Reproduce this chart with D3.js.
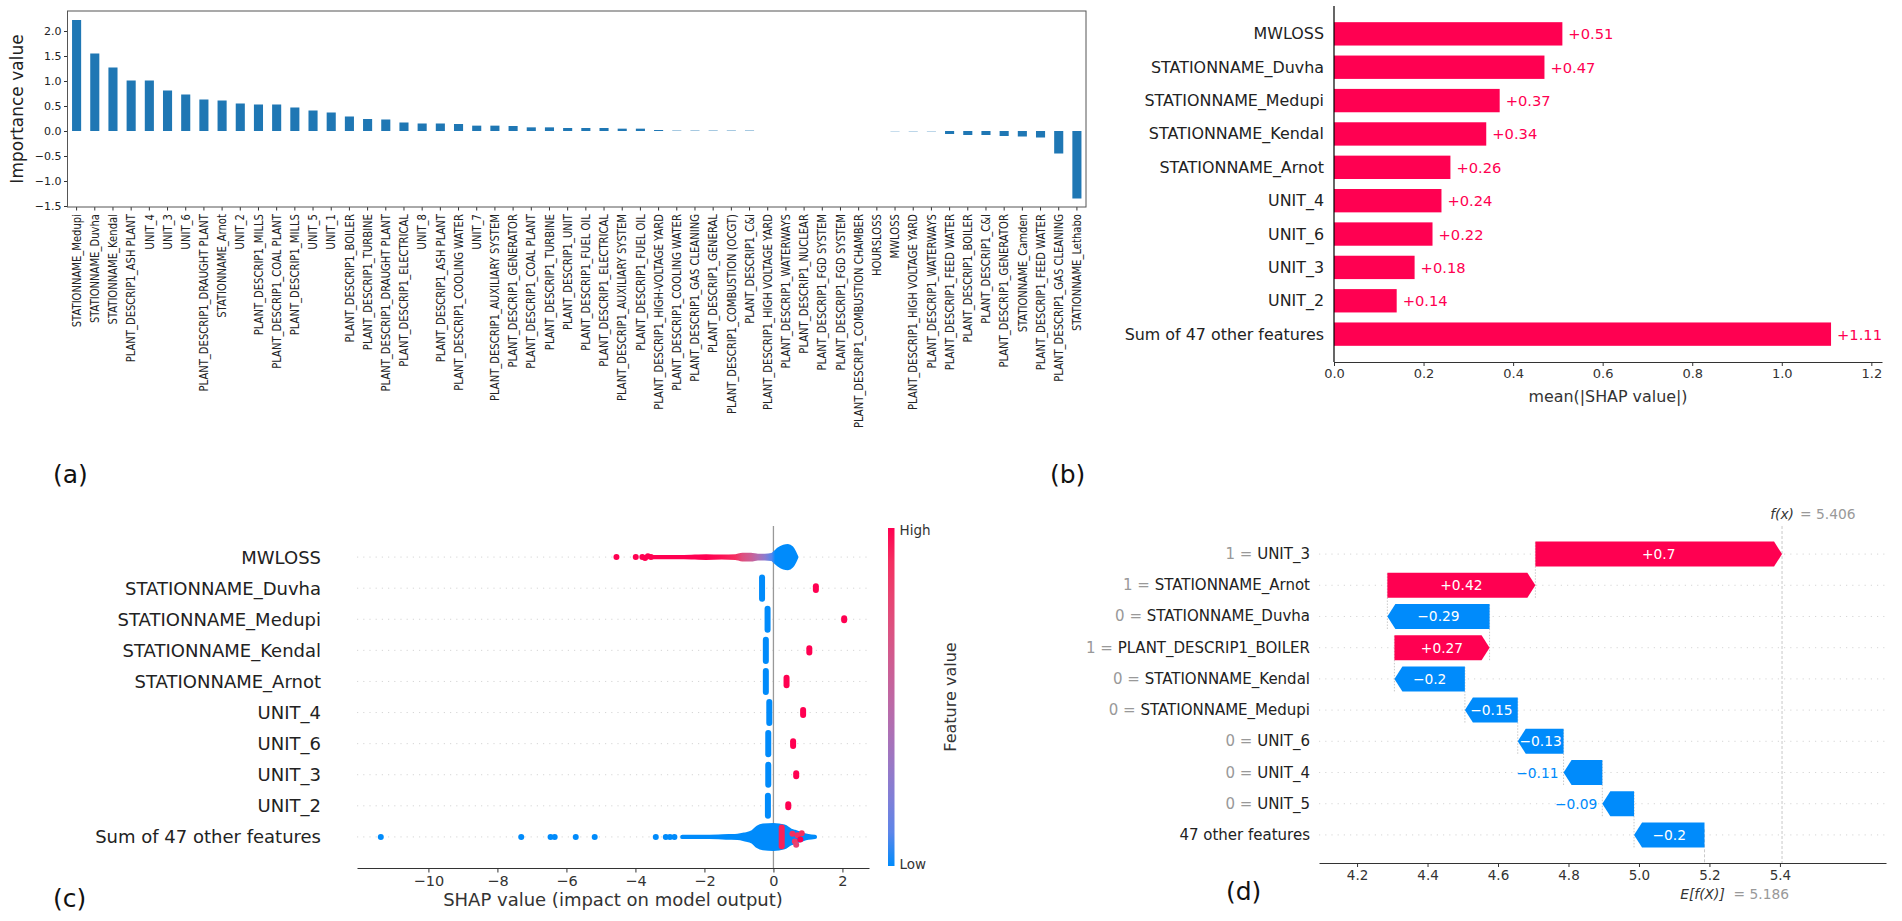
<!DOCTYPE html>
<html>
<head>
<meta charset="utf-8">
<script src="https://cdn.jsdelivr.net/npm/d3@7"></script>
<style>
  html, body { margin: 0; padding: 0; background: #fff; }
  svg { display: block; }
  text { font-family: "DejaVu Sans", sans-serif; }
</style>
</head>
<body>
<svg id="chart" width="1902" height="921"></svg>
<script>
// ---- (a) importance values
const impFeatures = [
  'STATIONNAME_Medupi', 'STATIONNAME_Duvha', 'STATIONNAME_Kendal', 'PLANT_DESCRIP1_ASH PLANT',
  'UNIT_4', 'UNIT_3', 'UNIT_6', 'PLANT_DESCRIP1_DRAUGHT PLANT', 'STATIONNAME_Arnot', 'UNIT_2',
  'PLANT_DESCRIP1_MILLS', 'PLANT_DESCRIP1_COAL PLANT', 'PLANT_DESCRIP1_MILLS', 'UNIT_5', 'UNIT_1',
  'PLANT_DESCRIP1_BOILER', 'PLANT_DESCRIP1_TURBINE', 'PLANT_DESCRIP1_DRAUGHT PLANT', 'PLANT_DESCRIP1_ELECTRICAL',
  'UNIT_8', 'PLANT_DESCRIP1_ASH PLANT', 'PLANT_DESCRIP1_COOLING WATER', 'UNIT_7', 'PLANT_DESCRIP1_AUXILIARY SYSTEM',
  'PLANT_DESCRIP1_GENERATOR', 'PLANT_DESCRIP1_COAL PLANT', 'PLANT_DESCRIP1_TURBINE', 'PLANT_DESCRIP1_UNIT',
  'PLANT_DESCRIP1_FUEL OIL', 'PLANT_DESCRIP1_ELECTRICAL', 'PLANT_DESCRIP1_AUXILIARY SYSTEM', 'PLANT_DESCRIP1_FUEL OIL',
  'PLANT_DESCRIP1_HIGH-VOLTAGE YARD', 'PLANT_DESCRIP1_COOLING WATER', 'PLANT_DESCRIP1_GAS CLEANING', 'PLANT_DESCRIP1_GENERAL',
  'PLANT_DESCRIP1_COMBUSTION (OCGT)', 'PLANT_DESCRIP1_C&I', 'PLANT_DESCRIP1_HIGH VOLTAGE YARD', 'PLANT_DESCRIP1_WATERWAYS',
  'PLANT_DESCRIP1_NUCLEAR', 'PLANT_DESCRIP1_FGD SYSTEM', 'PLANT_DESCRIP1_FGD SYSTEM', 'PLANT_DESCRIP1_COMBUSTION CHAMBER',
  'HOURSLOSS', 'MWLOSS', 'PLANT_DESCRIP1_HIGH VOLTAGE YARD', 'PLANT_DESCRIP1_WATERWAYS', 'PLANT_DESCRIP1_FEED WATER',
  'PLANT_DESCRIP1_BOILER', 'PLANT_DESCRIP1_C&I', 'PLANT_DESCRIP1_GENERATOR', 'STATIONNAME_Camden',
  'PLANT_DESCRIP1_FEED WATER', 'PLANT_DESCRIP1_GAS CLEANING', 'STATIONNAME_Lethabo'
];
const impValues = [
  2.22, 1.55, 1.27, 1.01, 1.01, 0.81, 0.73, 0.63, 0.61, 0.55,
  0.53, 0.53, 0.47, 0.41, 0.37, 0.29, 0.24, 0.23, 0.17, 0.15,
  0.15, 0.14, 0.107, 0.107, 0.10, 0.073, 0.073, 0.06, 0.06, 0.06,
  0.047, 0.047, 0.02, 0.008, 0.008, 0.008, 0.008, 0.008, 0, 0,
  0, 0, 0, 0, 0, -0.005, -0.006, -0.006, -0.06, -0.08,
  -0.08, -0.10, -0.11, -0.13, -0.45, -1.35
];
const impTicks = [-1.5, -1.0, -0.5, 0.0, 0.5, 1.0, 1.5, 2.0];

// ---- (b) mean |SHAP value|
const barFeatures = ['MWLOSS', 'STATIONNAME_Duvha', 'STATIONNAME_Medupi', 'STATIONNAME_Kendal',
  'STATIONNAME_Arnot', 'UNIT_4', 'UNIT_6', 'UNIT_3', 'UNIT_2', 'Sum of 47 other features'];
const barValues = [0.51, 0.47, 0.37, 0.34, 0.26, 0.24, 0.22, 0.18, 0.14, 1.11];
const barTicks = [0, 0.2, 0.4, 0.6, 0.8, 1.0, 1.2];

// ---- (c) beeswarm, read row by row
const swarmFeatures = ['MWLOSS', 'STATIONNAME_Duvha', 'STATIONNAME_Medupi', 'STATIONNAME_Kendal',
  'STATIONNAME_Arnot', 'UNIT_4', 'UNIT_6', 'UNIT_3', 'UNIT_2', 'Sum of 47 other features'];
// dense envelopes: [SHAP value, spread (share of row), feature value 0..1]
const swarmBands = [
  [[-3.5, 0, 1], [-2.6, 0, 1], [-1.95, 0.02, 1], [-1.5, 0.01, 0.98], [-1.1, 0.02, 0.9],
   [-0.9, 0.07, 0.72], [-0.65, 0.07, 0.58], [-0.45, 0.04, 0.42], [-0.25, 0.04, 0.25],
   [-0.05, 0.06, 0.08], [0.05, 0.14, 0], [0.15, 0.24, 0], [0.3, 0.33, 0], [0.42, 0.35, 0],
   [0.52, 0.29, 0], [0.6, 0.15, 0], [0.66, 0, 0]],
  [], [], [], [], [], [], [], [],
  [[-2.64, 0, 0], [-1.86, 0, 0], [-1.3, 0.02, 0], [-1.04, 0.03, 0], [-0.84, 0.07, 0],
   [-0.6, 0.15, 0], [-0.45, 0.3, 0], [-0.3, 0.36, 0], [0.0, 0.38, 0], [0.31, 0.33, 0],
   [0.5, 0.2, 0], [0.61, 0.16, 0], [0.87, 0.06, 0], [1.2, 0, 0]]
];
// vertical stacks: [SHAP value, spread, feature value]
const swarmStacks = [
  [],
  [[-0.33, 0.34, 0], [1.23, 0.06, 1]],
  [[-0.17, 0.34, 0], [2.05, 0.03, 1]],
  [[-0.22, 0.34, 0], [1.04, 0.07, 1]],
  [[-0.22, 0.34, 0], [0.38, 0.12, 1]],
  [[-0.12, 0.34, 0], [0.86, 0.08, 1]],
  [[-0.15, 0.34, 0], [0.57, 0.08, 1]],
  [[-0.15, 0.32, 0], [0.66, 0.05, 1]],
  [[-0.16, 0.32, 0], [0.43, 0.05, 1]],
  [[0.24, 0.3, 0.95]]
];
// single points: [SHAP value, feature value, offset (share of row)]
const swarmDots = [
  [[-4.55, 1, 0], [-3.99, 1, 0], [-3.80, 1, 0], [-3.72, 1, 0.03], [-3.64, 1, -0.03], [-3.55, 1, 0]],
  [], [], [], [], [], [], [], [],
  [[-11.38, 0, 0], [-7.31, 0, 0], [-6.46, 0, 0], [-6.34, 0, 0], [-5.73, 0, 0], [-5.18, 0, 0],
   [-3.41, 0, 0], [-3.12, 0, 0], [-3.0, 0, 0], [-2.87, 0, 0],
   [0.55, 0.9, -0.1], [0.62, 0.85, 0.15], [0.7, 0.9, -0.05], [0.78, 1, 0.08], [0.82, 0.9, -0.12], [0.66, 0.8, 0.25]]
];
const swarmTicks = [-10, -8, -6, -4, -2, 0, 2];

// ---- (d) waterfall
const wfFeatures = ['UNIT_3', 'STATIONNAME_Arnot', 'STATIONNAME_Duvha', 'PLANT_DESCRIP1_BOILER',
  'STATIONNAME_Kendal', 'STATIONNAME_Medupi', 'UNIT_6', 'UNIT_4', 'UNIT_5', '47 other features'];
const wfInputs = ['1', '1', '0', '1', '0', '0', '0', '0', '0', ''];
const wfValues = [0.7, 0.42, -0.29, 0.27, -0.2, -0.15, -0.13, -0.11, -0.09, -0.2];
const wfBase = 5.186;
const wfFx = 5.406;
const wfTicks = [4.2, 4.4, 4.6, 4.8, 5.0, 5.2, 5.4];

const RED = '#ff0051';
const BLUE = '#008bfb';
const AXIS = '#333333';
const featColor = d3.interpolateLab(BLUE, RED);

const svg = d3.select('#chart');

function panelLabel(txt, x, y) {
    svg.append('text').attr('x', x).attr('y', y)
        .attr('font-size', 25).attr('fill', '#111').text(txt);
}

function styleAxis(g, size) {
    g.attr('font-family', 'DejaVu Sans').attr('font-size', size).attr('color', AXIS);
    g.selectAll('text').attr('fill', AXIS);
}

// (a) importance bar chart
function drawImportance() {
    const box = { l: 67.5, r: 1086, t: 11, b: 207 };
    const x = d3.scaleBand().domain(d3.range(impValues.length))
        .range([box.l, box.r]).paddingInner(0.5).paddingOuter(0.25);
    const y = d3.scaleLinear().domain([-1.52, 2.4]).range([box.b, box.t]);
    const g = svg.append('g');

    g.selectAll('rect.bar').data(impValues).join('rect')
        .attr('class', 'bar')
        .attr('x', (d, i) => x(i))
        .attr('width', x.bandwidth())
        .attr('y', d => y(Math.max(0, d)))
        .attr('height', d => Math.abs(y(d) - y(0)))
        .attr('fill', '#1f77b4');

    const ya = g.append('g').attr('transform', `translate(${box.l},0)`)
        .call(d3.axisLeft(y).tickValues(impTicks).tickFormat(d3.format('.1f')).tickSize(3.5).tickSizeOuter(0));
    ya.select('.domain').remove();
    styleAxis(ya, 11);
    ya.selectAll('text').attr('fill', '#222').attr('x', -6);

    const xa = g.append('g').attr('transform', `translate(0,${box.b})`)
        .call(d3.axisBottom(x).tickFormat(i => impFeatures[i]).tickSize(3.5).tickSizeOuter(0));
    xa.select('.domain').remove();
    styleAxis(xa, 12);
    xa.selectAll('text')
        .attr('font-family', 'Liberation Sans')
        .attr('fill', '#222')
        .attr('text-anchor', 'end')
        .attr('x', -8.5).attr('y', 0).attr('dy', '0.35em')
        .attr('transform', 'rotate(-90) scale(0.835,1)');

    g.append('rect')
        .attr('x', box.l).attr('y', box.t)
        .attr('width', box.r - box.l).attr('height', box.b - box.t)
        .attr('fill', 'none').attr('stroke', '#555').attr('stroke-width', 1);

    g.append('text')
        .attr('transform', `translate(17,${(box.t + box.b) / 2}) rotate(-90)`)
        .attr('text-anchor', 'middle').attr('dominant-baseline', 'central')
        .attr('font-family', 'Liberation Sans').attr('font-size', 17).attr('fill', '#222')
        .text('Importance value');
}

// (b) mean |SHAP| bar chart
function drawMeanBar() {
    const l = 1334, r = 1882, t = 6, b = 362;
    const n = barValues.length;
    const x = d3.scaleLinear().domain([0, 1.2238]).range([l, r]);
    const y = d3.scaleLinear().domain([-0.835, n - 1 + 0.835]).range([t, b]);
    const h = (y(1) - y(0)) * 0.7;
    const g = svg.append('g');

    g.selectAll('rect').data(barValues).join('rect')
        .attr('x', x(0)).attr('y', (d, i) => y(i) - h / 2)
        .attr('width', d => x(d) - x(0)).attr('height', h)
        .attr('fill', RED);

    g.selectAll('text.val').data(barValues).join('text')
        .attr('class', 'val')
        .attr('x', d => x(d) + 6).attr('y', (d, i) => y(i))
        .attr('dominant-baseline', 'central')
        .attr('font-size', 14.7).attr('fill', RED)
        .text(d => '+' + d.toFixed(2));

    g.selectAll('text.lab').data(barFeatures).join('text')
        .attr('class', 'lab')
        .attr('x', l - 10).attr('y', (d, i) => y(i))
        .attr('text-anchor', 'end').attr('dominant-baseline', 'central')
        .attr('font-size', 15.9).attr('fill', '#222')
        .text(d => d);

    const xa = g.append('g').attr('transform', `translate(0,${b})`)
        .call(d3.axisBottom(x).tickValues(barTicks).tickFormat(d3.format('.1f')).tickSize(4).tickSizeOuter(0));
    styleAxis(xa, 13);

    g.append('line').attr('x1', l).attr('x2', l).attr('y1', t).attr('y2', b)
        .attr('stroke', '#000').attr('stroke-width', 1.2);

    g.append('text').attr('x', (l + r) / 2).attr('y', b + 40)
        .attr('text-anchor', 'middle').attr('font-size', 15.9).attr('fill', AXIS)
        .text('mean(|SHAP value|)');
}

// (c) beeswarm summary
function drawSwarm() {
    const l = 357, r = 869, t = 526, b = 868;
    const n = swarmFeatures.length;
    const x = d3.scaleLinear().domain([-12.07, 2.77]).range([l, r]);
    const y = d3.scaleLinear().domain([-1, n]).range([t, b]);
    const step = y(1) - y(0);
    const dotR = 3;
    const pad = 2.2;
    const g = svg.append('g');
    const defs = svg.append('defs');

    // dotted row guides
    g.selectAll('line.row').data(swarmFeatures).join('line')
        .attr('class', 'row')
        .attr('x1', l).attr('x2', r)
        .attr('y1', (d, i) => y(i)).attr('y2', (d, i) => y(i))
        .attr('stroke', '#cccccc').attr('stroke-width', 0.8).attr('stroke-dasharray', '1.2,5');

    g.append('line').attr('x1', x(0)).attr('x2', x(0)).attr('y1', t).attr('y2', b)
        .attr('stroke', '#999999').attr('stroke-width', 1.3);

    const area = d3.area().curve(d3.curveMonotoneX);

    swarmBands.forEach((band, i) => {
        if (!band.length) return;
        const x1 = x(band[0][0]), x2 = x(band[band.length - 1][0]);
        const grad = defs.append('linearGradient')
            .attr('id', `band-${i}`).attr('gradientUnits', 'userSpaceOnUse')
            .attr('x1', x1).attr('x2', x2).attr('y1', 0).attr('y2', 0);
        grad.selectAll('stop').data(band).join('stop')
            .attr('offset', d => (x(d[0]) - x1) / (x2 - x1))
            .attr('stop-color', d => featColor(d[2]));
        const yc = y(i);
        area.x(d => x(d[0]))
            .y0(d => yc - d[1] * step)
            .y1(d => yc + d[1] * step);
        g.append('path').attr('d', area(band))
            .attr('fill', `url(#band-${i})`)
            .attr('stroke', `url(#band-${i})`)
            .attr('stroke-width', pad * 2).attr('stroke-linejoin', 'round');
    });

    swarmStacks.forEach((stacks, i) => {
        g.selectAll(null).data(stacks).join('line')
            .attr('x1', d => x(d[0])).attr('x2', d => x(d[0]))
            .attr('y1', d => y(i) - d[1] * step).attr('y2', d => y(i) + d[1] * step)
            .attr('stroke', d => featColor(d[2]))
            .attr('stroke-width', dotR * 2).attr('stroke-linecap', 'round');
    });

    swarmDots.forEach((dots, i) => {
        g.selectAll(null).data(dots).join('circle')
            .attr('cx', d => x(d[0])).attr('cy', d => y(i) + d[2] * step)
            .attr('r', dotR).attr('fill', d => featColor(d[1]));
    });

    g.selectAll('text.lab').data(swarmFeatures).join('text')
        .attr('class', 'lab')
        .attr('x', 321).attr('y', (d, i) => y(i))
        .attr('text-anchor', 'end').attr('dominant-baseline', 'central')
        .attr('font-size', 18).attr('fill', '#222')
        .text(d => d);

    const xa = g.append('g').attr('transform', `translate(0,${b})`)
        .call(d3.axisBottom(x).tickValues(swarmTicks).tickFormat(d3.format('d')).tickSize(4.5).tickSizeOuter(0));
    styleAxis(xa, 14.5);

    g.append('text').attr('x', (l + r) / 2).attr('y', b + 38)
        .attr('text-anchor', 'middle').attr('font-size', 18).attr('fill', AXIS)
        .text('SHAP value (impact on model output)');

    // colour bar
    const cbX = 888, cbW = 6.5, cbT = 528, cbB = 866;
    const cg = defs.append('linearGradient').attr('id', 'cbar')
        .attr('x1', 0).attr('y1', 1).attr('x2', 0).attr('y2', 0);
    cg.selectAll('stop').data(d3.range(0, 1.01, 0.1)).join('stop')
        .attr('offset', d => d).attr('stop-color', d => featColor(d));
    g.append('rect').attr('x', cbX).attr('y', cbT).attr('width', cbW).attr('height', cbB - cbT)
        .attr('fill', 'url(#cbar)');
    g.append('text').attr('x', cbX + cbW + 5).attr('y', cbT + 2).attr('dominant-baseline', 'central')
        .attr('font-size', 13.5).attr('fill', AXIS).text('High');
    g.append('text').attr('x', cbX + cbW + 5).attr('y', cbB - 2).attr('dominant-baseline', 'central')
        .attr('font-size', 13.5).attr('fill', AXIS).text('Low');
    g.append('text')
        .attr('transform', `translate(${cbX + 62},${(cbT + cbB) / 2}) rotate(-90)`)
        .attr('text-anchor', 'middle').attr('dominant-baseline', 'central')
        .attr('font-family', 'Liberation Sans').attr('font-size', 16).attr('fill', AXIS)
        .text('Feature value');
}

function fmtSigned(v) {
    const s = Math.abs(v).toFixed(2).replace(/0+$/, '').replace(/\.$/, '');
    return (v < 0 ? '\u2212' : '+') + s;
}

function arrowPath(x0, x1, yc, h) {
    const dir = x1 >= x0 ? 1 : -1;
    const hl = Math.min(8, Math.abs(x1 - x0));
    const xb = x1 - dir * hl;
    return `M${x0},${yc - h / 2}L${xb},${yc - h / 2}L${x1},${yc}L${xb},${yc + h / 2}L${x0},${yc + h / 2}Z`;
}

// (d) waterfall
function drawWaterfall() {
    const l = 1319, r = 1886, t = 526, b = 863;
    const n = wfValues.length;
    const x = d3.scaleLinear().domain([4.092, 5.701]).range([l, r]);
    const y = d3.scaleLinear().domain([-0.9, n - 1 + 0.9]).range([t, b]);
    const step = y(1) - y(0);
    const h = step * 0.8;
    const g = svg.append('g');

    // cumulate from the bottom row (base value) up to f(x)
    const starts = new Array(n), ends = new Array(n);
    let pos = wfBase;
    for (let i = n - 1; i >= 0; i--) {
        starts[i] = pos;
        ends[i] = pos + wfValues[i];
        pos = ends[i];
    }

    g.selectAll('line.row').data(wfFeatures).join('line')
        .attr('class', 'row')
        .attr('x1', l).attr('x2', r)
        .attr('y1', (d, i) => y(i)).attr('y2', (d, i) => y(i))
        .attr('stroke', '#cccccc').attr('stroke-width', 0.8).attr('stroke-dasharray', '1.2,5');

    // connectors between bars
    for (let i = n - 1; i >= 1; i--) {
        g.append('line')
            .attr('x1', x(ends[i])).attr('x2', x(ends[i]))
            .attr('y1', y(i) + h / 2).attr('y2', y(i - 1) - h / 2)
            .attr('stroke', '#bbbbbb').attr('stroke-width', 0.8).attr('stroke-dasharray', '1.5,1.5');
    }

    g.append('line').attr('x1', x(wfFx)).attr('x2', x(wfFx)).attr('y1', t).attr('y2', b)
        .attr('stroke', '#bbbbbb').attr('stroke-width', 0.8).attr('stroke-dasharray', '3,2');
    g.append('line').attr('x1', x(wfBase)).attr('x2', x(wfBase)).attr('y1', b - (b - t) / n).attr('y2', b)
        .attr('stroke', '#bbbbbb').attr('stroke-width', 0.8).attr('stroke-dasharray', '3,2');

    g.selectAll('path.arrow').data(wfValues).join('path')
        .attr('class', 'arrow')
        .attr('d', (d, i) => arrowPath(x(starts[i]), x(ends[i]), y(i), h))
        .attr('fill', d => d >= 0 ? RED : BLUE);

    wfValues.forEach((v, i) => {
        const x0 = x(starts[i]), x1 = x(ends[i]);
        const txt = g.append('text')
            .attr('dominant-baseline', 'central').attr('y', y(i))
            .attr('font-size', 13.8).text(fmtSigned(v));
        const tw = txt.node().getComputedTextLength();
        if (tw <= Math.abs(x1 - x0)) {
            txt.attr('x', (x0 + x1) / 2).attr('text-anchor', 'middle').attr('fill', '#fff');
        } else if (v < 0) {
            txt.attr('x', x1 - 5).attr('text-anchor', 'end').attr('fill', BLUE);
        } else {
            txt.attr('x', x1 + 5).attr('text-anchor', 'start').attr('fill', RED);
        }
    });

    const lab = g.selectAll('text.lab').data(wfFeatures).join('text')
        .attr('class', 'lab')
        .attr('x', l - 9).attr('y', (d, i) => y(i))
        .attr('text-anchor', 'end').attr('dominant-baseline', 'central')
        .attr('font-size', 15);
    lab.append('tspan').attr('fill', '#999999').text((d, i) => wfInputs[i] ? wfInputs[i] + ' = ' : '');
    lab.append('tspan').attr('fill', '#222').text(d => d);

    const xa = g.append('g').attr('transform', `translate(0,${b})`)
        .call(d3.axisBottom(x).tickValues(wfTicks).tickFormat(d3.format('.1f')).tickSize(4).tickSizeOuter(0));
    styleAxis(xa, 13.5);

    // f(x) at top, E[f(X)] at bottom
    const fxX = x(wfFx), bX = x(wfBase);
    g.append('text').attr('x', fxX).attr('y', t - 12).attr('text-anchor', 'middle')
        .attr('dominant-baseline', 'central').attr('font-size', 13.8).attr('font-style', 'italic')
        .attr('fill', AXIS).text('f(x)');
    g.append('text').attr('x', fxX + 18).attr('y', t - 12)
        .attr('dominant-baseline', 'central').attr('font-size', 13.8)
        .attr('fill', '#999999').text('= ' + wfFx.toFixed(3));
    g.append('text').attr('x', bX - 2).attr('y', b + 31).attr('text-anchor', 'middle')
        .attr('dominant-baseline', 'central').attr('font-size', 13.8).attr('font-style', 'italic')
        .attr('fill', AXIS).text('E[f(X)]');
    g.append('text').attr('x', bX + 29).attr('y', b + 31)
        .attr('dominant-baseline', 'central').attr('font-size', 13.8)
        .attr('fill', '#999999').text('= ' + wfBase.toFixed(3));
}

drawImportance();
drawMeanBar();
drawSwarm();
drawWaterfall();

panelLabel('(a)', 53, 483);
panelLabel('(b)', 1050, 483);
panelLabel('(c)', 53, 907);
panelLabel('(d)', 1226, 900);
</script>
</body>
</html>
